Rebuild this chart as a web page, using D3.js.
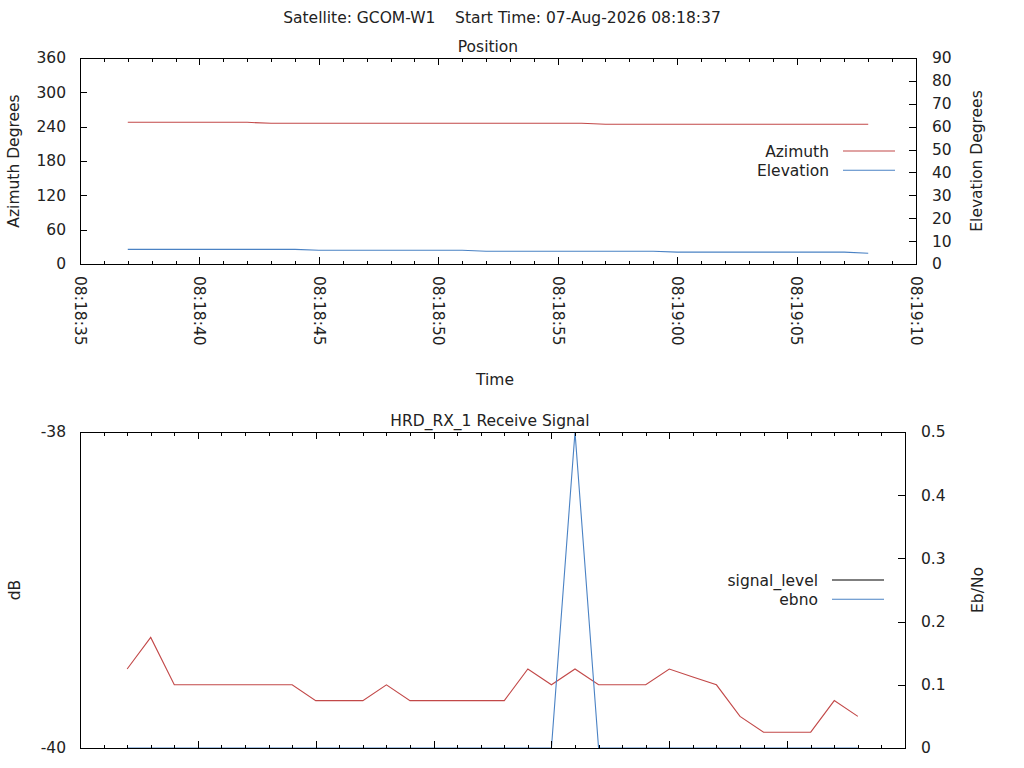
<!DOCTYPE html>
<html>
<head>
<meta charset="utf-8">
<script src="https://cdn.jsdelivr.net/npm/d3@7"></script>
<style>
  body { margin: 0; background: #fff; }
  svg { display: block; }
  text { font-family: "DejaVu Sans", sans-serif; font-size: 15.5px; fill: #222; }
</style>
</head>
<body>
<svg class="chart"></svg>
<script>
// ---- data ------------------------------------------------------------------
var sampleTimes = [
  "08:18:37", "08:18:38", "08:18:39", "08:18:40", "08:18:41", "08:18:42", "08:18:43", "08:18:44",
  "08:18:45", "08:18:46", "08:18:47", "08:18:48", "08:18:49", "08:18:50", "08:18:51", "08:18:52",
  "08:18:53", "08:18:54", "08:18:55", "08:18:56", "08:18:57", "08:18:58", "08:18:59", "08:19:00",
  "08:19:01", "08:19:02", "08:19:03", "08:19:04", "08:19:05", "08:19:06", "08:19:07", "08:19:08"
];
var azimuth = [
  247.6, 247.6, 247.6, 247.6, 247.6, 247.6, 245.9, 245.9,
  245.9, 245.9, 245.9, 245.9, 245.9, 245.9, 245.9, 245.9,
  245.9, 245.9, 245.9, 245.9, 244.1, 244.1, 244.1, 244.1,
  244.1, 244.1, 244.1, 244.1, 244.1, 244.1, 244.1, 244.1
];
var elevation = [
  6.4, 6.4, 6.4, 6.4, 6.4, 6.4, 6.4, 6.4,
  6.0, 6.0, 6.0, 6.0, 6.0, 6.0, 6.0, 5.55,
  5.55, 5.55, 5.55, 5.55, 5.55, 5.55, 5.55, 5.2,
  5.2, 5.2, 5.2, 5.2, 5.2, 5.2, 5.2, 4.7
];
// red trace on the Eb/No axis (no legend entry visible)
var redTrace = [
  0.125, 0.175, 0.1, 0.1, 0.1, 0.1, 0.1, 0.1,
  0.075, 0.075, 0.075, 0.1, 0.075, 0.075, 0.075, 0.075,
  0.075, 0.125, 0.1, 0.125, 0.1, 0.1, 0.1, 0.125,
  0.1125, 0.1, 0.05, 0.025, 0.025, 0.025, 0.075, 0.05
];
var ebno = [
  0, 0, 0, 0, 0, 0, 0, 0,
  0, 0, 0, 0, 0, 0, 0, 0,
  0, 0, 0, 0.5, 0, 0, 0, 0,
  0, 0, 0, 0, 0, 0, 0, 0
];
var timeDomain = ["08:18:35", "08:19:10"];
var azTicks = [0, 60, 120, 180, 240, 300, 360];
var elTicks = [0, 10, 20, 30, 40, 50, 60, 70, 80, 90];
var dbTicks = [-40, -38];
var ebTicks = [0, 0.1, 0.2, 0.3, 0.4, 0.5];
var posLegend = ["Azimuth", "Elevation"];
var sigLegend = ["signal_level", "ebno"];

// ---- setup ------------------------------------------------------------------
var RED = "#c24848", BLUE = "#4a82c4", BLACK = "#000";
var parseT = d3.timeParse("%H:%M:%S");
var fmtT = d3.timeFormat("%H:%M:%S");
var times = sampleTimes.map(parseT);

var svg = d3.select(".chart").attr("width", 1024).attr("height", 768);
svg.append("rect").attr("width", 1024).attr("height", 768).attr("fill", "#fff");

svg.append("text")
    .attr("x", 502).attr("y", 23)
    .attr("text-anchor", "middle")
    .style("white-space", "pre")
    .text("Satellite: GCOM-W1    Start Time: 07-Aug-2026 08:18:37");

/**
 * Draws one gnuplot-like panel: border, mirrored inward ticks, two y axes
 */
function panel(opt) {
    var x = d3.scaleTime().domain(timeDomain.map(parseT)).range([opt.left, opt.right]);
    var yL = d3.scaleLinear().domain(opt.yLDomain).range([opt.bottom, opt.top]);
    var yR = d3.scaleLinear().domain(opt.yRDomain).range([opt.bottom, opt.top]);
    var g = svg.append("g");
    var clipId = "clip" + opt.id;

    g.append("clipPath").attr("id", clipId).append("rect")
        .attr("x", opt.left).attr("y", opt.top)
        .attr("width", opt.right - opt.left).attr("height", opt.bottom - opt.top);

    // series lines
    opt.series.forEach(function (s) {
        var y = s.axis === "right" ? yR : yL;
        var line = d3.line().x(function (d, i) { return x(times[i]); }).y(function (d) { return y(d); });
        g.append("path")
            .datum(s.values)
            .attr("clip-path", "url(#" + clipId + ")")
            .attr("fill", "none")
            .attr("stroke", s.color)
            .attr("stroke-width", 1.1)
            .attr("d", line);
    });

    // axes
    function style(sel) {
        sel.select(".domain").remove();
        sel.selectAll("line").attr("stroke", BLACK).attr("shape-rendering", "crispEdges");
        sel.selectAll("text").attr("font-size", null).attr("font-family", null).attr("fill", null);
        sel.attr("font-size", null).attr("font-family", null);
    }
    var minor = d3.timeSecond.every(1), major = d3.timeSecond.every(5);

    g.append("g").attr("transform", "translate(0," + opt.bottom + ")")
        .call(d3.axisBottom(x).ticks(minor).tickSize(-3.5).tickFormat("")).call(style);
    g.append("g").attr("transform", "translate(0," + opt.top + ")")
        .call(d3.axisTop(x).ticks(minor).tickSize(-3.5).tickFormat("")).call(style);
    g.append("g").attr("transform", "translate(0," + opt.top + ")")
        .call(d3.axisTop(x).ticks(major).tickSize(-7).tickFormat("")).call(style);
    var xb = g.append("g").attr("transform", "translate(0," + opt.bottom + ")")
        .call(d3.axisBottom(x).ticks(major).tickSize(-7)
            .tickFormat(opt.xLabels ? fmtT : "")).call(style);
    xb.selectAll("text")
        .attr("transform", "rotate(90)")
        .attr("x", 12).attr("y", 0).attr("dy", "0.36em")
        .attr("text-anchor", "start");

    g.append("g").attr("transform", "translate(" + opt.left + ",0)")
        .call(d3.axisLeft(yL).tickValues(opt.yLTicks).tickSize(-7).tickPadding(14)
            .tickFormat(function (d) { return String(d); })).call(style);
    g.append("g").attr("transform", "translate(" + opt.right + ",0)")
        .call(d3.axisRight(yR).tickValues(opt.yRTicks).tickSize(-7).tickPadding(16)
            .tickFormat(function (d) { return String(d); })).call(style);

    g.append("rect")
        .attr("x", opt.left).attr("y", opt.top)
        .attr("width", opt.right - opt.left).attr("height", opt.bottom - opt.top)
        .attr("fill", "none").attr("stroke", BLACK).attr("stroke-width", 1)
        .attr("shape-rendering", "crispEdges");

    // titles
    g.append("text").attr("x", opt.titleX).attr("y", opt.top - 6)
        .attr("text-anchor", "middle").text(opt.title);
    var cy = (opt.top + opt.bottom) / 2;
    g.append("text").attr("transform", "translate(" + opt.yLLabelX + "," + cy + ") rotate(-90)")
        .attr("text-anchor", "middle").text(opt.yLLabel);
    g.append("text").attr("transform", "translate(" + opt.yRLabelX + "," + cy + ") rotate(-90)")
        .attr("text-anchor", "middle").text(opt.yRLabel);

    // legend
    opt.legend.forEach(function (name, i) {
        var ly = opt.legendY + i * 19.3;
        g.append("text").attr("x", opt.right - 87).attr("y", ly).attr("dy", "0.36em")
            .attr("text-anchor", "end").text(name);
        g.append("line")
            .attr("x1", opt.right - 73).attr("x2", opt.right - 21)
            .attr("y1", ly).attr("y2", ly)
            .attr("stroke", opt.legendColors[i]).attr("stroke-width", 1.1);
    });
    return g;
}

panel({
    id: 1, left: 80, right: 916, top: 58, bottom: 264, xLabels: true,
    yLDomain: [0, 360], yRDomain: [0, 90], yLTicks: azTicks, yRTicks: elTicks,
    series: [
        {values: azimuth, axis: "left", color: RED},
        {values: elevation, axis: "right", color: BLUE}
    ],
    title: "Position", titleX: 488,
    yLLabel: "Azimuth Degrees", yLLabelX: 19, yRLabel: "Elevation Degrees", yRLabelX: 982,
    legend: posLegend, legendColors: [RED, BLUE], legendY: 151
});

svg.append("text").attr("x", 495).attr("y", 385).attr("text-anchor", "middle").text("Time");

// lower panel continues below the window, so its time labels are not in view
panel({
    id: 2, left: 80, right: 905, top: 432, bottom: 748, xLabels: false,
    yLDomain: [-40, -38], yRDomain: [0, 0.5], yLTicks: dbTicks, yRTicks: ebTicks,
    series: [
        {values: redTrace, axis: "right", color: RED},
        {values: ebno, axis: "right", color: BLUE}
    ],
    title: "HRD_RX_1 Receive Signal", titleX: 490,
    yLLabel: "dB", yLLabelX: 20, yRLabel: "Eb/No", yRLabelX: 983,
    legend: sigLegend, legendColors: [BLACK, BLUE], legendY: 580
});
</script>
</body>
</html>
